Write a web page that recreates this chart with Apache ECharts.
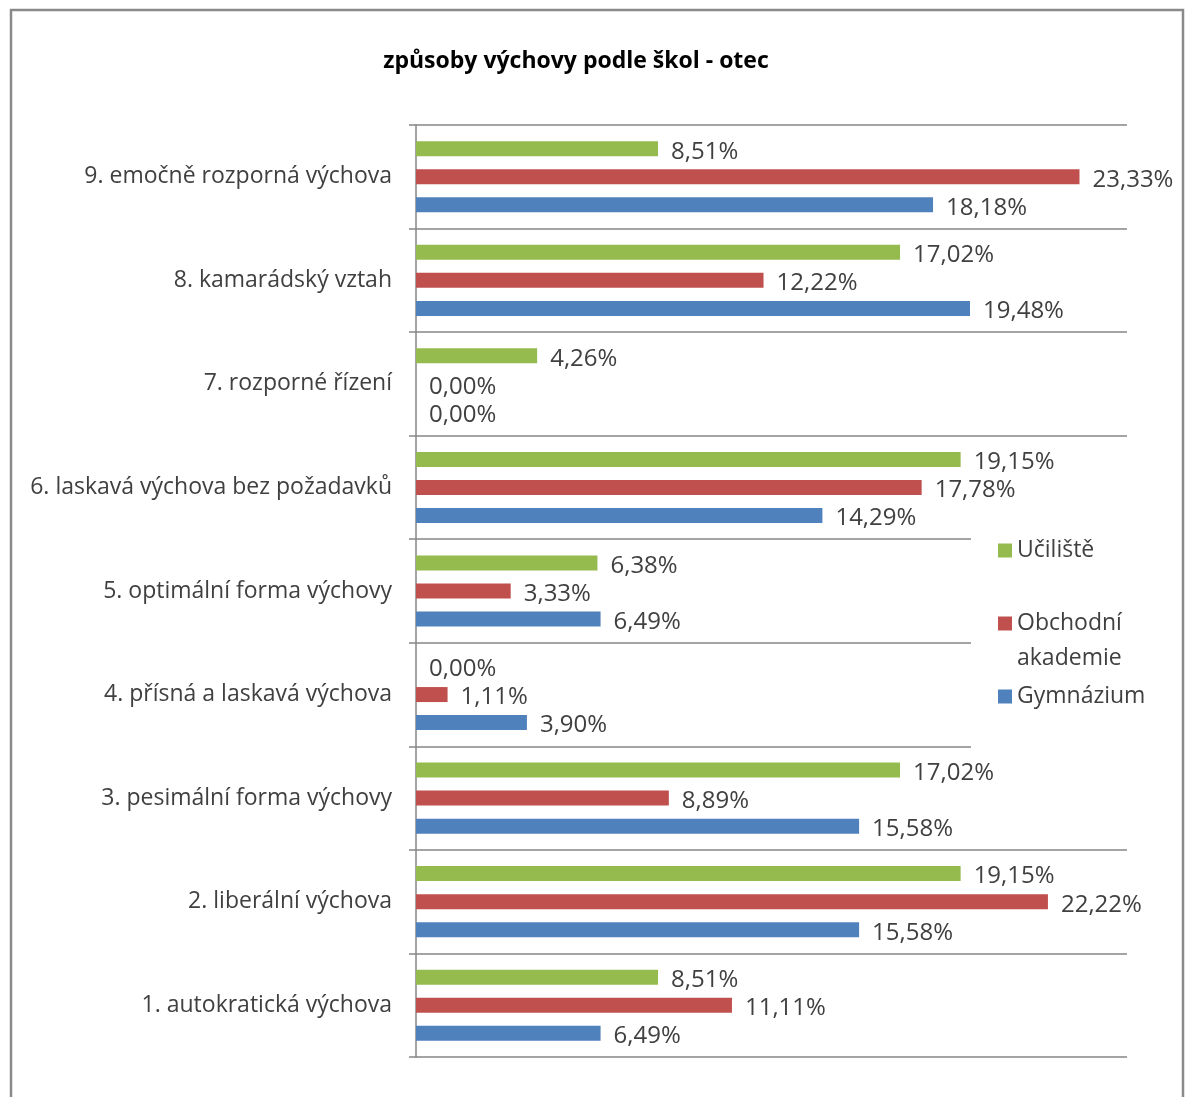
<!DOCTYPE html>
<html>
<head>
<meta charset="utf-8">
<script src="https://cdn.jsdelivr.net/npm/echarts@6/dist/echarts.min.js"></script>
<style>
html,body{margin:0;padding:0;background:#fff;}
#chart{width:1186px;height:1097px;}
</style>
</head>
<body>
<div id="chart"></div>
<script>
const categories = [
  '1. autokratická výchova',
  '2. liberální výchova',
  '3. pesimální forma výchovy',
  '4. přísná a laskavá výchova',
  '5. optimální forma výchovy',
  '6. laskavá výchova bez požadavků',
  '7. rozporné řízení',
  '8. kamarádský vztah',
  '9. emočně rozporná výchova'
];
const seriesNames = ['Učiliště', 'Obchodní akademie', 'Gymnázium'];
const uciliste = [8.51, 19.15, 17.02, 0.00, 6.38, 19.15, 4.26, 17.02, 8.51];
const obchodniAkademie = [11.11, 22.22, 8.89, 1.11, 3.33, 17.78, 0.00, 12.22, 23.33];
const gymnazium = [6.49, 15.58, 15.58, 3.90, 6.49, 14.29, 0.00, 19.48, 18.18];
const colors = ['#95BB4F', '#C0504D', '#4F81BD'];
const titleText = 'způsoby výchovy podle škol - otec';

const FONT = '"Open Sans", sans-serif';
const chart = echarts.init(document.getElementById('chart'));
const labelCfg = {
  show: true,
  position: 'right',
  distance: 13,
  offset: [0, 3],
  fontFamily: FONT,
  fontSize: 24,
  color: '#404040',
  formatter: p => p.value.toFixed(2).replace('.', ',') + '%'
};
const mk = (name, data, color) => ({
  name: name,
  type: 'bar',
  data: data,
  itemStyle: { color: color },
  barWidth: 15,
  barGap: '87%',
  label: labelCfg
});
chart.setOption({
  animation: false,
  graphic: [{
    type: 'rect',
    shape: { x: 11, y: 10, width: 1172, height: 1100 },
    style: { fill: 'none', stroke: '#8a8a8a', lineWidth: 2.5 },
    silent: true
  }],
  title: {
    text: titleText,
    left: 571,
    textAlign: 'center',
    top: 45,
    textStyle: { fontFamily: '"Liberation Sans Narrow", "Open Sans", sans-serif', fontWeight: 'bold', fontSize: 23, color: '#000' }
  },
  legend: {
    orient: 'vertical',
    left: 971,
    top: 525,
    padding: [8, 20, 45, 27],
    backgroundColor: '#fff',
    itemGap: 3,
    itemWidth: 14,
    itemHeight: 14,
    icon: 'rect',
    data: seriesNames,
    formatter: n => n === 'Obchodní akademie' ? '\nObchodní\nakademie' : n,
    textStyle: { fontFamily: FONT, fontSize: 23, color: '#404040', lineHeight: 35 }
  },
  grid: { left: 416, right: 59, top: 125, bottom: 40, containLabel: false },
  xAxis: {
    type: 'value', min: 0, max: 25, interval: 5,
    show: false
  },
  yAxis: {
    type: 'category',
    data: categories,
    axisLine: { show: true, lineStyle: { color: '#868686', width: 1.5 } },
    axisTick: { show: true, length: 7, lineStyle: { color: '#868686', width: 1.5 } },
    splitLine: { show: true, lineStyle: { color: '#868686', width: 1.5 } },
    axisLabel: { margin: 24, fontFamily: FONT, fontSize: 23, color: '#404040', padding: [8, 0, 0, 0] }
  },
  series: [
    mk(seriesNames[0], uciliste, colors[0]),
    mk(seriesNames[1], obchodniAkademie, colors[1]),
    mk(seriesNames[2], gymnazium, colors[2])
  ]
});
</script>
</body>
</html>
